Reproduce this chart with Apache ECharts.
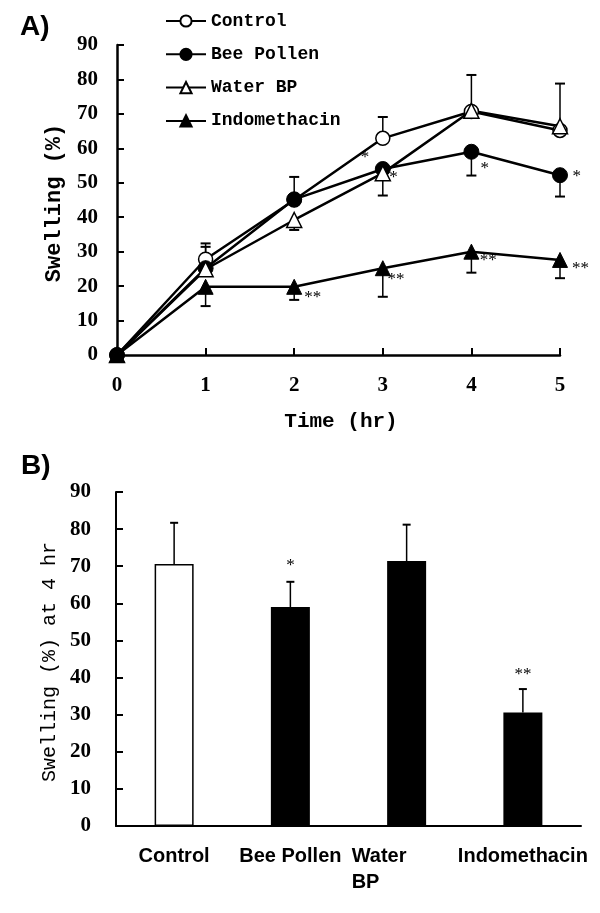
<!DOCTYPE html>
<html>
<head>
<meta charset="utf-8">
<script src="https://cdn.jsdelivr.net/npm/echarts@6/dist/echarts.min.js"></script>
<style>
html,body{margin:0;padding:0;background:#fff;}
#c{width:600px;height:913px;}
</style>
</head>
<body>
<div id="c"></div>
<script>
// ---- Panel A data ----
const times = [0, 1, 2, 3, 4, 5];
const control = [0, 27.8, 45.0, 62.9, 70.7, 65.2];
const beePollen = [0, 25.2, 45.2, 54.0, 59.0, 52.2];
const waterBP = [0, 24.9, 39.2, 52.8, 70.9, 66.4];
const indomethacin = [0, 19.8, 19.8, 25.2, 30.0, 27.6];
// error bar end values (mean +/- SD)
const controlErr = [null, 32.4, 51.7, 69.1, 81.3, 78.8];
const beePollenErr = [null, 31.4, null, 46.3, 52.1, 46.0];
const waterBPErr = [null, null, 36.3, null, null, null];
const indomethacinErr = [null, 14.2, 16.0, 16.9, 23.9, 22.3];
// significance marks [time, value, text]
const sigA = [[2.80, 57.2, '*'], [3.12, 51.4, '*'], [4.15, 54.2, '*'], [5.19, 51.7, '*'],
              [2.21, 16.8, '**'], [3.15, 22.0, '**'], [4.19, 27.3, '**'], [5.23, 25.0, '**']];
const yTicksA = [0, 90, 10];

// ---- Panel B data ----
const groups = ['Control', 'Bee Pollen', 'Water BP', 'Indomethacin'];
const swelling4h = [70.6, 59.0, 71.4, 30.6];
const swelling4hErr = [81.7, 65.8, 81.2, 36.9];
const sigB = [[1, 70.3, '*'], [3, 40.7, '**']];

const chart = echarts.init(document.getElementById('c'), null, {renderer: 'canvas'});

function errData(xs, means, ends) {
  const out = [];
  xs.forEach((x, i) => { if (ends[i] != null) out.push([x, means[i], ends[i]]); });
  return out;
}
function errRender(capHalf, lw) {
  return function (params, api) {
    const x = api.value(0), y0 = api.value(1), y1 = api.value(2);
    const p0 = api.coord([x, y0]), p1 = api.coord([x, y1]);
    return {
      type: 'group',
      children: [
        {type: 'line', shape: {x1: p0[0], y1: p0[1], x2: p1[0], y2: p1[1]}, style: {stroke: '#000', lineWidth: lw}},
        {type: 'line', shape: {x1: p1[0] - capHalf, y1: p1[1], x2: p1[0] + capHalf, y2: p1[1]}, style: {stroke: '#000', lineWidth: lw + 0.5}}
      ]
    };
  };
}
function textRender(src, font) {
  return function (params, api) {
    const p = api.coord([api.value(0), api.value(1)]);
    return {type: 'text', style: {text: src[params.dataIndex][2], x: p[0], y: p[1], align: 'center', verticalAlign: 'middle', font: font, fill: '#000'}};
  };
}

const tickFont = {fontFamily: 'Liberation Serif', fontWeight: 'bold', fontSize: 21, color: '#000'};

const lineCommon = {type: 'line', xAxisIndex: 0, yAxisIndex: 0, lineStyle: {color: '#000', width: 2.5}, z: 3, animation: false};

const series = [
  Object.assign({}, lineCommon, {name: 'Control', data: times.map((t, i) => [t, control[i]]), symbol: 'circle', symbolSize: 14,
    itemStyle: {color: '#fff', borderColor: '#000', borderWidth: 1.5}}),
  Object.assign({}, lineCommon, {name: 'Bee Pollen', data: times.map((t, i) => [t, beePollen[i]]), symbol: 'circle', symbolSize: 15,
    itemStyle: {color: '#000', borderColor: '#000', borderWidth: 1}}),
  Object.assign({}, lineCommon, {name: 'Water BP', data: times.map((t, i) => [t, waterBP[i]]), symbol: 'triangle', symbolSize: 15,
    itemStyle: {color: '#fff', borderColor: '#000', borderWidth: 1.5}}),
  Object.assign({}, lineCommon, {name: 'Indomethacin', data: times.map((t, i) => [t, indomethacin[i]]), symbol: 'triangle', symbolSize: 15,
    itemStyle: {color: '#000', borderColor: '#000', borderWidth: 1}}),
  {type: 'custom', xAxisIndex: 0, yAxisIndex: 0, renderItem: errRender(5, 1.5), z: 2, clip: false,
    encode: {x: 0, y: [1, 2]},
    data: [].concat(errData(times, control, controlErr), errData(times, beePollen, beePollenErr),
                    errData(times, waterBP, waterBPErr), errData(times, indomethacin, indomethacinErr))},
  {type: 'custom', xAxisIndex: 0, yAxisIndex: 0, renderItem: textRender(sigA, '17px "Liberation Serif"'), z: 4, clip: false,
    encode: {x: 0, y: 1}, data: sigA.map(d => [d[0], d[1]])},
  // Panel B
  {type: 'bar', xAxisIndex: 1, yAxisIndex: 1, barWidth: 39, z: 2,
    data: swelling4h.map((v, i) => ({value: v, itemStyle: i === 0 ? {color: '#fff', borderColor: '#000', borderWidth: 1.5} : {color: '#000'}}))},
  {type: 'custom', xAxisIndex: 1, yAxisIndex: 1, renderItem: errRender(4, 1.5), z: 3,
    encode: {x: 0, y: [1, 2]}, data: groups.map((g, i) => [i, swelling4h[i], swelling4hErr[i]])},
  {type: 'custom', xAxisIndex: 1, yAxisIndex: 1, renderItem: textRender(sigB, '17px "Liberation Serif"'), z: 4,
    encode: {x: 0, y: 1}, data: sigB.map(d => [d[0], d[1]])}
];

const option = {
  animation: false,
  backgroundColor: '#fff',
  legend: {
    data: ['Control', 'Bee Pollen', 'Water BP', 'Indomethacin'],
    orient: 'vertical', left: 160, top: 7,
    itemWidth: 40, itemHeight: 14, itemGap: 15.3,
    textStyle: {fontFamily: 'Liberation Mono', fontWeight: 'bold', fontSize: 18, color: '#000'}
  },
  grid: [
    {left: 117, top: 45, width: 443, height: 310},
    {left: 116, top: 492, width: 465, height: 334}
  ],
  xAxis: [
    {type: 'value', gridIndex: 0, min: 0, max: 5, interval: 1,
      axisLine: {lineStyle: {color: '#000', width: 2.5}},
      axisTick: {inside: true, length: 7, lineStyle: {color: '#000', width: 2}},
      axisLabel: Object.assign({margin: 20}, tickFont),
      splitLine: {show: false}},
    {type: 'category', gridIndex: 1, data: groups,
      axisLine: {lineStyle: {color: '#000', width: 2}},
      axisTick: {inside: true, length: 7, lineStyle: {color: '#000', width: 2}},
      axisLabel: {margin: 17, interval: 0,
        formatter: function (v) { return v === 'Water BP' ? '{l|Water}\n{l|BP}' : '{n|' + v + '}'; },
        rich: {
          n: {fontFamily: 'Liberation Sans', fontWeight: 'bold', fontSize: 20, color: '#000', lineHeight: 26},
          l: {fontFamily: 'Liberation Sans', fontWeight: 'bold', fontSize: 20, color: '#000', lineHeight: 26, width: 110, align: 'left'}
        }}}
  ],
  yAxis: [
    {type: 'value', gridIndex: 0, min: yTicksA[0], max: yTicksA[1], interval: yTicksA[2],
      axisLine: {show: true, lineStyle: {color: '#000', width: 2.5}},
      axisTick: {show: true, inside: true, length: 7, lineStyle: {color: '#000', width: 2}},
      axisLabel: Object.assign({margin: 19}, tickFont),
      splitLine: {show: false}},
    {type: 'value', gridIndex: 1, min: yTicksA[0], max: yTicksA[1], interval: yTicksA[2],
      axisLine: {show: true, lineStyle: {color: '#000', width: 2}},
      axisTick: {show: true, inside: true, length: 7, lineStyle: {color: '#000', width: 2}},
      axisLabel: Object.assign({margin: 25}, tickFont),
      splitLine: {show: false}}
  ],
  graphic: [
    {type: 'text', x: 20, y: 13, style: {text: 'A)', font: 'bold 28px "Liberation Sans"', fill: '#000'}},
    {type: 'text', x: 21, y: 452, style: {text: 'B)', font: 'bold 28px "Liberation Sans"', fill: '#000'}},
    {type: 'text', x: 54, y: 203, rotation: Math.PI / 2,
      style: {text: 'Swelling (%)', font: 'bold 22px "Liberation Mono"', fill: '#000', align: 'center', verticalAlign: 'middle'}},
    {type: 'text', x: 341, y: 422,
      style: {text: 'Time (hr)', font: 'bold 21px "Liberation Mono"', fill: '#000', align: 'center', verticalAlign: 'middle'}},
    {type: 'text', x: 50, y: 662, rotation: Math.PI / 2,
      style: {text: 'Swelling (%) at 4 hr', font: '20px "Liberation Mono"', fill: '#000', align: 'center', verticalAlign: 'middle'}}
  ],
  series: series
};
chart.setOption(option);
</script>
</body>
</html>
